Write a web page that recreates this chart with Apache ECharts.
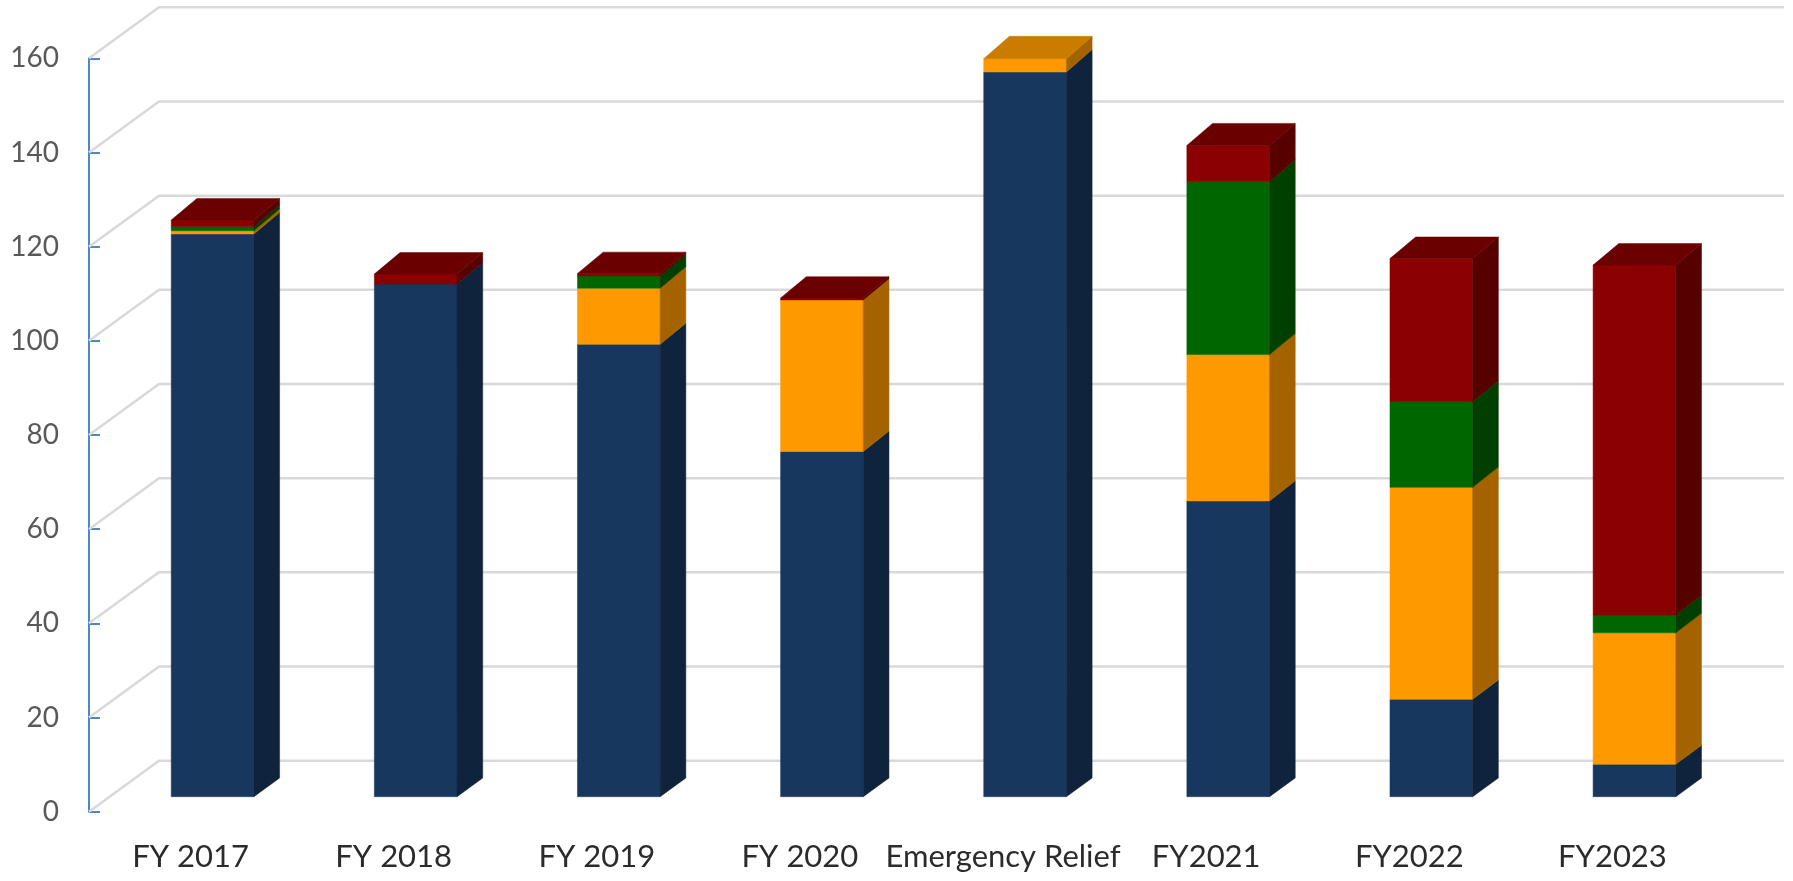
<!DOCTYPE html>
<html>
<head>
<meta charset="utf-8">
<script src="https://cdn.jsdelivr.net/npm/echarts@6/dist/echarts.min.js"></script>
<style>
  html, body { margin: 0; padding: 0; background: #ffffff; }
  #chart { width: 1793px; height: 881px; }
</style>
</head>
<body>
<div id="chart"></div>
<script>
// ---- data ----
const categories = ['FY 2017', 'FY 2018', 'FY 2019', 'FY 2020', 'Emergency Relief', 'FY2021', 'FY2022', 'FY2023'];
const seriesNavy   = [119.5, 108.9, 96.1, 73.3, 153.9, 62.8, 20.7, 6.9];
const seriesOrange = [0.7,   0,     11.9, 32.2, 2.8,   31.1, 45.0, 27.9];
const seriesGreen  = [0.85,  0,     2.6,  0,    0,     36.7, 18.2, 3.8];
const seriesRed    = [1.4,   2.1,   0.5,  0.4,  0,     7.7,  30.4, 74.3];
const yTicks = [0, 20, 40, 60, 80, 100, 120, 140, 160];

// ---- style ----
const segColors = [
  { front: '#17375E', side: '#10233D', top: '#13304F' },
  { front: '#FF9900', side: '#A56300', top: '#C97C00' },
  { front: '#006600', side: '#003F00', top: '#004F00' },
  { front: '#8B0000', side: '#560000', top: '#6A0000' }
];
const FRONT_DX = 22, FRONT_DY = -15;     // bar front plane offset from axis plane
const SIDE_DX = 25.7;                    // bar depth (x)
const WALL_DX = 70, WALL_DY = -51;       // back wall offset

const chart = echarts.init(document.getElementById('chart'), null, { renderer: 'canvas' });

const barData = categories.map((c, i) => [i, seriesNavy[i], seriesOrange[i], seriesGreen[i], seriesRed[i]]);

function sideDy(yBase, y) {
  return -(18.7 + (yBase - y) * 0.0052);
}

const option = {
  backgroundColor: '#ffffff',
  animation: false,
  grid: { left: 89, top: 58.3, width: 1625, height: 753.4, containLabel: false },
  xAxis: {
    type: 'category',
    data: categories,
    axisLine: { show: false },
    axisTick: { show: false },
    splitLine: { show: false },
    axisLabel: {
      interval: 0,
      hideOverlap: false,
      margin: 30,
      color: '#2b2b2b',
      fontSize: 31,
      fontFamily: 'Lato'
    }
  },
  yAxis: {
    type: 'value',
    min: 0, max: 160, interval: 20,
    axisLine: { show: true, lineStyle: { color: '#4F86C9', width: 2 } },
    axisTick: { show: true, inside: true, length: 11, lineStyle: { color: '#4F86C9', width: 2 } },
    splitLine: { show: false },
    axisLabel: { margin: 30, color: '#595959', fontSize: 28, fontFamily: 'Lato' }
  },
  series: [
    {
      type: 'custom',
      name: 'grid',
      z: 1,
      silent: true,
      clip: false,
      data: yTicks.map(v => [0, v]),
      renderItem: function (params, api) {
        const cs = params.coordSys;
        const p = api.coord([0, api.value(1)]);
        const y = p[1];
        const style = { stroke: '#D9D9D9', lineWidth: 2.5, fill: null };
        return {
          type: 'group',
          children: [
            { type: 'polyline', shape: { points: [[cs.x, y], [cs.x + WALL_DX, y + WALL_DY], [cs.x + cs.width + WALL_DX, y + WALL_DY]] }, style: style }
          ]
        };
      }
    },
    {
      type: 'custom',
      name: 'bars',
      z: 2,
      clip: false,
      data: barData,
      renderItem: function (params, api) {
        const i = api.value(0);
        const band = api.size([1, 0])[0];
        const base = api.coord([i, 0]);
        const cx = base[0] + FRONT_DX;
        const hw = band * 0.2035;
        const L = cx - hw, R = cx + hw;
        const yBase = base[1] + FRONT_DY;
        const children = [];
        let cum = 0;
        let topIdx = -1;
        for (let k = 0; k < 4; k++) {
          const v = api.value(k + 1);
          if (!(v > 0)) continue;
          const y0 = api.coord([i, cum])[1] + FRONT_DY;
          const y1 = api.coord([i, cum + v])[1] + FRONT_DY;
          cum += v;
          topIdx = k;
          const c = segColors[k];
          children.push({
            type: 'rect',
            shape: { x: L, y: y1, width: R - L, height: y0 - y1 },
            style: { fill: c.front, stroke: c.front, lineWidth: 0.5 }
          });
          children.push({
            type: 'polygon',
            shape: { points: [[R, y0], [R + SIDE_DX, y0 + sideDy(yBase, y0)], [R + SIDE_DX, y1 + sideDy(yBase, y1)], [R, y1]] },
            style: { fill: c.side, stroke: c.side, lineWidth: 0.5 }
          });
        }
        if (topIdx >= 0) {
          const yt = api.coord([i, cum])[1] + FRONT_DY;
          const d = sideDy(yBase, yt);
          const c = segColors[topIdx];
          children.push({
            type: 'polygon',
            shape: { points: [[L, yt], [R, yt], [R + SIDE_DX, yt + d], [L + SIDE_DX, yt + d]] },
            style: { fill: c.top, stroke: c.top, lineWidth: 0.5 }
          });
        }
        return { type: 'group', children: children };
      }
    }
  ]
};

chart.setOption(option);
</script>
</body>
</html>
